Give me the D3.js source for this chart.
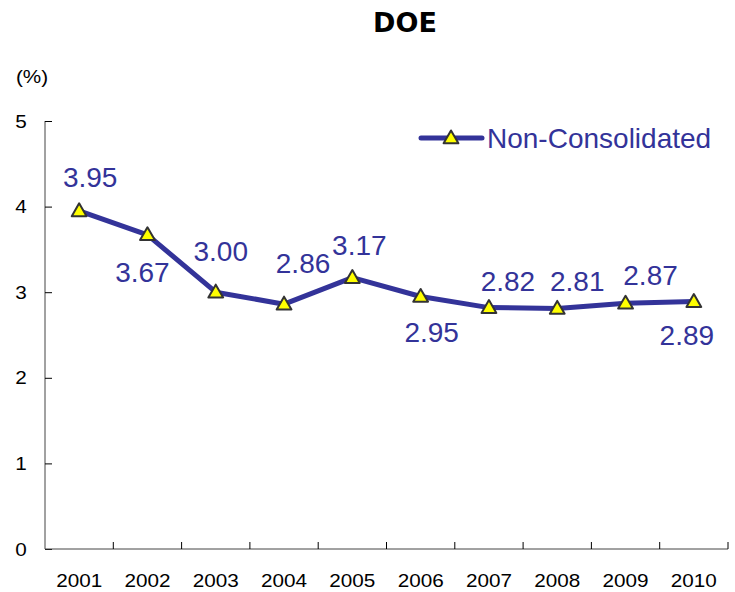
<!DOCTYPE html>
<html>
<head>
<meta charset="utf-8">
<script src="https://cdn.jsdelivr.net/npm/d3@7"></script>
<style>
  body { margin: 0; background: #fff; }
  text { font-family: "Liberation Sans", Arial, sans-serif; }
</style>
</head>
<body>
<script>
// data
var years = ["2001", "2002", "2003", "2004", "2005", "2006", "2007", "2008", "2009", "2010"];
var doeValues = [3.95, 3.67, 3.00, 2.86, 3.17, 2.95, 2.82, 2.81, 2.87, 2.89];
var yTicks = [0, 1, 2, 3, 4, 5];
var seriesName = "Non-Consolidated";

// label offsets from the marker (dx, dy), placement only
var labelOffsets = [[11, -24], [-5, 47], [5, -31], [19, -31], [7, -23], [11, 46], [19, -17], [20, -17], [25, -18], [-7, 43]];

var width = 735, height = 592;
var margin = {top: 121, right: 7, bottom: 43, left: 45};
var lineColor = "#333399";
var stretch = 1.15; // tick labels in the original are a bit wide

var svg = d3.select("body").append("svg")
    .attr("width", width)
    .attr("height", height);

var x = d3.scaleBand()
    .domain(years)
    .range([margin.left, width - margin.right]);

var y = d3.scaleLinear()
    .domain([0, 5])
    .range([height - margin.bottom, margin.top]);

// title
svg.append("text")
    .attr("x", 405)
    .attr("y", 32)
    .attr("text-anchor", "middle")
    .style("font-family", "'DejaVu Sans', Verdana, sans-serif")
    .style("font-weight", "bold")
    .style("font-size", "27px")
    .text("DOE");

svg.append("text")
    .attr("transform", "translate(32,83) scale(" + stretch + ",1)")
    .attr("text-anchor", "middle")
    .style("font-size", "18px")
    .text("(%)");

// y axis
var yAxis = svg.append("g")
    .attr("transform", "translate(" + margin.left + ",0)")
    .call(d3.axisRight(y).tickValues(yTicks).tickSize(7).tickFormat(""));
yAxis.select(".domain").attr("stroke", "#444").attr("d", "M0," + y(0) + "V" + y(5));
yAxis.selectAll(".tick line").attr("stroke", "#000");

svg.selectAll(".ylab")
    .data(yTicks)
    .enter()
    .append("text")
    .attr("class", "ylab")
    .attr("transform", function(d) { return "translate(21," + (y(d) + 6.5) + ") scale(" + stretch + ",1)"; })
    .attr("text-anchor", "middle")
    .style("font-size", "18px")
    .text(function(d) { return d; });

// x axis, ticks between categories
var xAxis = svg.append("g")
    .attr("transform", "translate(0," + y(0) + ")");
xAxis.append("line")
    .attr("x1", margin.left)
    .attr("x2", width - margin.right)
    .attr("stroke", "#444");
xAxis.selectAll(".xtick")
    .data(years)
    .enter()
    .append("line")
    .attr("class", "xtick")
    .attr("x1", function(d) { return x(d) + x.bandwidth(); })
    .attr("x2", function(d) { return x(d) + x.bandwidth(); })
    .attr("y1", 0)
    .attr("y2", -7)
    .attr("stroke", "#000");
xAxis.selectAll(".xlab")
    .data(years)
    .enter()
    .append("text")
    .attr("class", "xlab")
    .attr("transform", function(d) { return "translate(" + (x(d) + x.bandwidth() / 2) + ",38) scale(" + stretch + ",1)"; })
    .attr("text-anchor", "middle")
    .style("font-size", "18px")
    .text(function(d) { return d; });

// line
var line = d3.line()
    .x(function(d, i) { return x(years[i]) + x.bandwidth() / 2; })
    .y(function(d) { return y(d); });

svg.append("path")
    .datum(doeValues)
    .attr("d", line)
    .attr("fill", "none")
    .attr("stroke", lineColor)
    .attr("stroke-width", 5)
    .attr("stroke-linejoin", "round");

var tri = d3.symbol().type(d3.symbolTriangle).size(95);

svg.selectAll(".marker")
    .data(doeValues)
    .enter()
    .append("path")
    .attr("class", "marker")
    .attr("d", tri)
    .attr("transform", function(d, i) { return "translate(" + (x(years[i]) + x.bandwidth() / 2) + "," + (y(d) + 1) + ")"; })
    .attr("fill", "#ffff00")
    .attr("stroke", "#333")
    .attr("stroke-width", 2)
    .attr("stroke-linejoin", "round");

svg.selectAll(".vlab")
    .data(doeValues)
    .enter()
    .append("text")
    .attr("class", "vlab")
    .attr("x", function(d, i) { return x(years[i]) + x.bandwidth() / 2 + labelOffsets[i][0]; })
    .attr("y", function(d, i) { return y(d) + labelOffsets[i][1]; })
    .attr("text-anchor", "middle")
    .attr("fill", lineColor)
    .style("font-size", "28px")
    .text(function(d) { return d.toFixed(2); });

// legend
var legend = svg.append("g").attr("transform", "translate(421,138)");
legend.append("line")
    .attr("x1", 0).attr("x2", 61)
    .attr("stroke", lineColor)
    .attr("stroke-width", 5)
    .attr("stroke-linecap", "round");
legend.append("path")
    .attr("d", tri)
    .attr("transform", "translate(30,1)")
    .attr("fill", "#ffff00")
    .attr("stroke", "#333")
    .attr("stroke-width", 2)
    .attr("stroke-linejoin", "round");
legend.append("text")
    .attr("x", 66)
    .attr("y", 10)
    .attr("fill", lineColor)
    .style("font-size", "28px")
    .text(seriesName);
</script>
</body>
</html>
